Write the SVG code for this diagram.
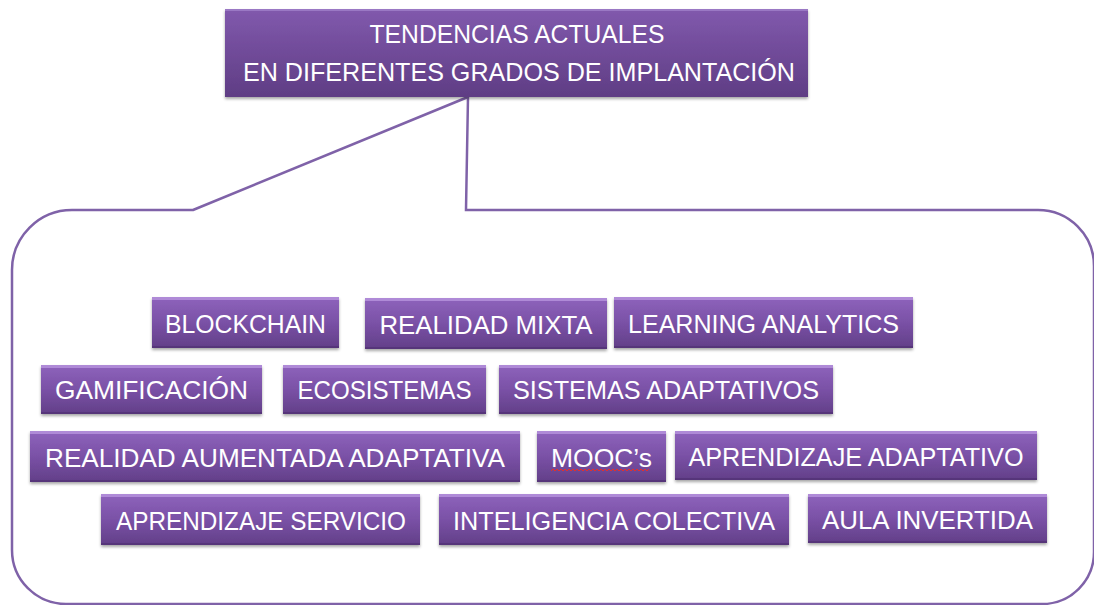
<svg xmlns="http://www.w3.org/2000/svg" width="1094" height="605" viewBox="0 0 1094 605">
<defs>
<linearGradient id="g" x1="0" y1="0" x2="0" y2="1">
<stop offset="0" stop-color="#8E63BC"/>
<stop offset="0.5" stop-color="#7A51A6"/>
<stop offset="1" stop-color="#623F88"/>
</linearGradient>
<linearGradient id="gt" x1="0" y1="0" x2="0" y2="1">
<stop offset="0" stop-color="#8159AD"/>
<stop offset="1" stop-color="#5F3D84"/>
</linearGradient>
<filter id="sh" x="-5%" y="-20%" width="110%" height="150%">
<feDropShadow dx="0" dy="2" stdDeviation="1.6" flood-color="#000" flood-opacity="0.35"/>
</filter>
</defs>
<style>
.box{fill:url(#g);filter:url(#sh)}
.hi{fill:#B592DC;opacity:0.85}
.lo{fill:#4E2F70;opacity:0.6}
.t{font-family:"Liberation Sans",Arial,sans-serif;font-size:26px;fill:#FFFFFF;text-anchor:middle}
.conn{fill:none;stroke:#7F62A8;stroke-width:2.5}
</style>
<rect width="1094" height="605" fill="#FFFFFF"/>
<g id="connectors">
<path class="conn" d="M193,210 L468,97 L466,210 L1038,210 A56,56 0 0 1 1094,266 L1094,552 A52,52 0 0 1 1042,604 L66,604 A54,54 0 0 1 12,550 L12,270 A60,60 0 0 1 72,210 Z"/>
</g>
<g id="title">
<rect x="225" y="9" width="583" height="88" fill="url(#gt)" filter="url(#sh)"/>
<rect x="225" y="9" width="583" height="2" fill="#9A78C4"/>
<text class="t" x="517" y="43" textLength="295" lengthAdjust="spacingAndGlyphs">TENDENCIAS ACTUALES</text>
<text class="t" x="519" y="81" textLength="552" lengthAdjust="spacingAndGlyphs">EN DIFERENTES GRADOS DE IMPLANTACIÓN</text>
</g>
<g id="n1"><rect class="box" x="152" y="297" width="187" height="51"/><rect class="hi" x="152" y="297" width="187" height="3"/><rect class="lo" x="152" y="346" width="187" height="2"/><text class="t" x="245.5" y="333" textLength="161" lengthAdjust="spacingAndGlyphs">BLOCKCHAIN</text></g>
<g id="n2"><rect class="box" x="365" y="298" width="242" height="51"/><rect class="hi" x="365" y="298" width="242" height="3"/><rect class="lo" x="365" y="347" width="242" height="2"/><text class="t" x="486" y="334" textLength="213" lengthAdjust="spacingAndGlyphs">REALIDAD MIXTA</text></g>
<g id="n3"><rect class="box" x="614" y="297" width="299" height="51"/><rect class="hi" x="614" y="297" width="299" height="3"/><rect class="lo" x="614" y="346" width="299" height="2"/><text class="t" x="763.5" y="333" textLength="271" lengthAdjust="spacingAndGlyphs">LEARNING ANALYTICS</text></g>
<g id="n4"><rect class="box" x="41" y="365" width="221" height="49"/><rect class="hi" x="41" y="365" width="221" height="3"/><rect class="lo" x="41" y="412" width="221" height="2"/><text class="t" x="151.5" y="399" textLength="193" lengthAdjust="spacingAndGlyphs">GAMIFICACIÓN</text></g>
<g id="n5"><rect class="box" x="283" y="365" width="203" height="49"/><rect class="hi" x="283" y="365" width="203" height="3"/><rect class="lo" x="283" y="412" width="203" height="2"/><text class="t" x="384.5" y="399" textLength="174" lengthAdjust="spacingAndGlyphs">ECOSISTEMAS</text></g>
<g id="n6"><rect class="box" x="499" y="365" width="334" height="49"/><rect class="hi" x="499" y="365" width="334" height="3"/><rect class="lo" x="499" y="412" width="334" height="2"/><text class="t" x="666" y="399" textLength="306" lengthAdjust="spacingAndGlyphs">SISTEMAS ADAPTATIVOS</text></g>
<g id="n7"><rect class="box" x="30" y="431" width="490" height="51"/><rect class="hi" x="30" y="431" width="490" height="3"/><rect class="lo" x="30" y="480" width="490" height="2"/><text class="t" x="275" y="467" textLength="460" lengthAdjust="spacingAndGlyphs">REALIDAD AUMENTADA ADAPTATIVA</text></g>
<g id="n8"><rect class="box" x="537" y="431" width="129" height="51"/><rect class="hi" x="537" y="431" width="129" height="3"/><rect class="lo" x="537" y="480" width="129" height="2"/><text class="t" x="601.5" y="467" textLength="101" lengthAdjust="spacingAndGlyphs">MOOC’s</text><path d="M551,471 l2,-2 l2,2 l2,-2 l2,2 l2,-2 l2,2 l2,-2 l2,2 l2,-2 l2,2 l2,-2 l2,2 l2,-2 l2,2 l2,-2 l2,2 l2,-2 l2,2 l2,-2 l2,2 l2,-2 l2,2 l2,-2 l2,2 l2,-2 l2,2 l2,-2 l2,2 l2,-2 l2,2 l2,-2 l2,2 l2,-2 l2,2 l2,-2 l2,2 l2,-2 l2,2 l2,-2 l2,2 l2,-2 l2,2 l2,-2 l2,2 l2,-2 l2,2 l2,-2 l2,2 l2,-2" fill="none" stroke="#E03030" stroke-width="1"/></g>
<g id="n9"><rect class="box" x="675" y="431" width="362" height="49"/><rect class="hi" x="675" y="431" width="362" height="3"/><rect class="lo" x="675" y="478" width="362" height="2"/><text class="t" x="856" y="466" textLength="335" lengthAdjust="spacingAndGlyphs">APRENDIZAJE ADAPTATIVO</text></g>
<g id="n10"><rect class="box" x="101" y="494" width="319" height="51"/><rect class="hi" x="101" y="494" width="319" height="3"/><rect class="lo" x="101" y="543" width="319" height="2"/><text class="t" x="261" y="530" textLength="290" lengthAdjust="spacingAndGlyphs">APRENDIZAJE SERVICIO</text></g>
<g id="n11"><rect class="box" x="439" y="494" width="350" height="51"/><rect class="hi" x="439" y="494" width="350" height="3"/><rect class="lo" x="439" y="543" width="350" height="2"/><text class="t" x="614" y="530" textLength="322" lengthAdjust="spacingAndGlyphs">INTELIGENCIA COLECTIVA</text></g>
<g id="n12"><rect class="box" x="808" y="494" width="239" height="49"/><rect class="hi" x="808" y="494" width="239" height="3"/><rect class="lo" x="808" y="541" width="239" height="2"/><text class="t" x="927.5" y="529" textLength="211" lengthAdjust="spacingAndGlyphs">AULA INVERTIDA</text></g>
</svg>
